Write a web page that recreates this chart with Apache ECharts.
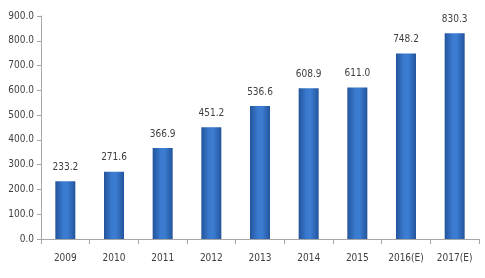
<!DOCTYPE html>
<html><head><meta charset="utf-8">
<script src="https://cdn.jsdelivr.net/npm/echarts@6/dist/echarts.min.js"></script>
<style>html,body{margin:0;padding:0;background:#fff}#c{width:485px;height:278px}</style>
</head><body><div id="c"></div>
<script>
var categories = ['2009','2010','2011','2012','2013','2014','2015','2016(E)','2017(E)'];
var values = [233.2, 271.6, 366.9, 451.2, 536.6, 608.9, 611.0, 748.2, 830.3];
var yMin = 0, yMax = 900, yInterval = 100;
var font = '"DejaVu Sans Condensed","Liberation Sans Narrow","Liberation Sans",sans-serif';
var chart = echarts.init(document.getElementById('c'));
chart.setOption({
  animation: false,
  backgroundColor: '#fff',
  grid: {left: 41, right: 6, top: 16, bottom: 39},
  xAxis: {
    type: 'category', data: categories,
    axisLine: {lineStyle: {color: '#a6a6a6'}},
    axisTick: {show: true, alignWithLabel: false, length: 5, lineStyle: {color: '#a6a6a6'}},
    axisLabel: {color: '#404040', fontFamily: font, fontSize: 10, margin: 14, interval: 0}
  },
  yAxis: {
    type: 'value', min: yMin, max: yMax, interval: yInterval,
    axisLine: {show: true, lineStyle: {color: '#a6a6a6'}},
    axisTick: {show: true, length: 4, lineStyle: {color: '#a6a6a6'}},
    splitLine: {show: false},
    axisLabel: {color: '#404040', fontFamily: font, fontSize: 10, margin: 7,
      formatter: function(v){return v.toFixed(1);}}
  },
  series: [{
    type: 'bar', data: values, barWidth: 20,
    itemStyle: {
      color: new echarts.graphic.LinearGradient(0,0,1,0,[
        {offset:0,color:'#23549c'},{offset:0.4,color:'#3a7bd0'},{offset:0.6,color:'#3b7dd2'},{offset:1,color:'#23549c'}])
    },
    label: {show: true, position: 'top', distance: 9, color: '#404040', fontFamily: font, fontSize: 10,
      formatter: function(p){return p.value.toFixed(1);}}
  }]
});
</script></body></html>
